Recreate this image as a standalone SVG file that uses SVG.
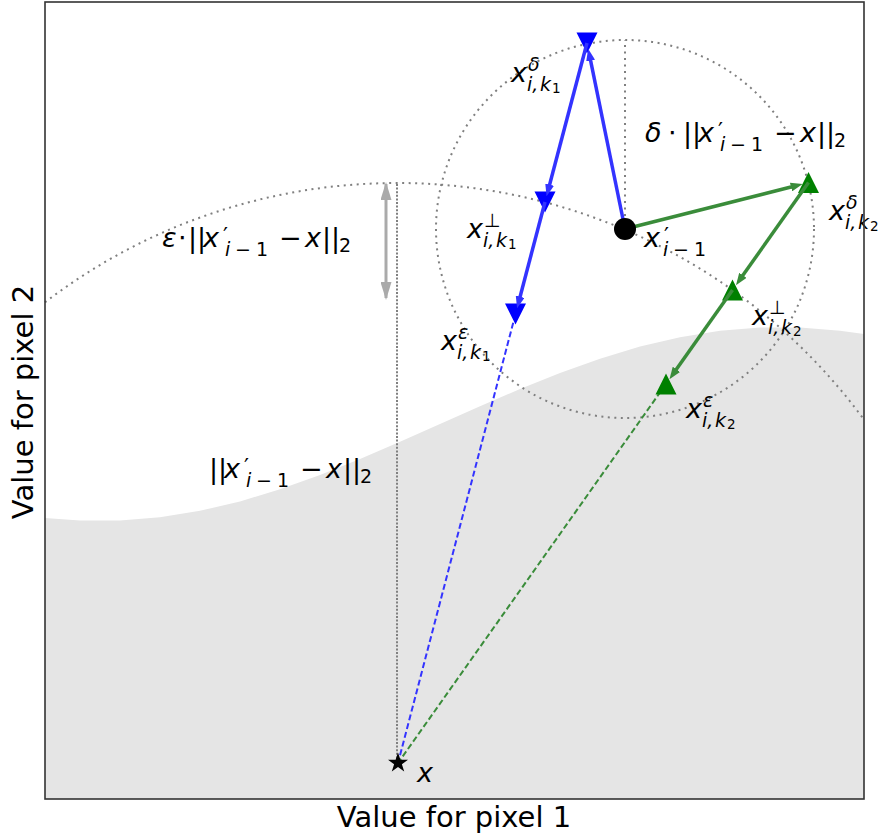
<svg xmlns="http://www.w3.org/2000/svg" width="884" height="837" viewBox="0 0 884 837">
<style>
.dot{fill:none;stroke:#808080;stroke-width:2;stroke-dasharray:2 4.5}
.t{font-family:"DejaVu Sans",sans-serif;fill:#000;font-size:27px}
.it{font-style:italic}
.up{font-style:normal}
.s{font-size:19px}
.ss{font-size:13.5px}
.pr{font-size:22px;font-style:normal}
.ax{font-family:"DejaVu Sans",sans-serif;font-size:29px;fill:#000}
.bl{fill:none;stroke:#3333ff;stroke-width:3.5}
.gl{fill:none;stroke:#3a8c3a;stroke-width:3.5}
</style>
<defs>
<marker id="hb" viewBox="0 0 12 9" refX="4" refY="4.5" markerWidth="12" markerHeight="9" markerUnits="userSpaceOnUse" orient="auto"><path d="M0,0 L12,4.5 L0,9 z" fill="#3333ff"/></marker>
<marker id="hg" viewBox="0 0 12 9" refX="4" refY="4.5" markerWidth="12" markerHeight="9" markerUnits="userSpaceOnUse" orient="auto"><path d="M0,0 L12,4.5 L0,9 z" fill="#3a8c3a"/></marker>
<marker id="hy" viewBox="0 0 18 11" refX="16" refY="5.5" markerWidth="18" markerHeight="11" markerUnits="userSpaceOnUse" orient="auto-start-reverse"><path d="M0,0 L18,5.5 L0,11 z" fill="#aaaaaa"/></marker>
</defs>

<g id="region">
<path d="M45,799 L45,517.9 L80,520.6 L120,520.6 L160,517.3 L200,510.8 L240,501.4 L280,489.3 L320,475.1 L360,459 L400,441.8 L440,424 L480,406.2 L520,389 L560,372.9 L600,358.7 L640,346.6 L680,337.2 L720,330.7 L760,327.4 L800,327.4 L840,330.7 L864,334.1 L864,799 Z" fill="#e5e5e5"/>
</g>

<g id="guides">
<path class="dot" d="M45,302.3 A579,579 0 0 1 864,419.7"/>
<circle class="dot" cx="625" cy="229" r="189"/>
<line class="dot" x1="625" y1="229" x2="625" y2="40"/>
<line x1="397" y1="762" x2="397" y2="183" stroke="#808080" stroke-width="2" stroke-dasharray="2 1.6"/>
<line x1="386" y1="184" x2="386" y2="298" stroke="#aaaaaa" stroke-width="3" marker-start="url(#hy)" marker-end="url(#hy)"/>
</g>

<g id="connectors">
<line x1="515.5" y1="314" x2="398" y2="763" stroke="#3333ff" stroke-width="2" stroke-dasharray="6 3"/>
<line x1="666" y1="384" x2="398" y2="763" stroke="#3a8c3a" stroke-width="2" stroke-dasharray="6 3"/>
</g>

<g id="markers">
<polygon points="576.5,32.5 597.5,32.5 587,53.5" fill="#0000ff"/>
<polygon points="534.5,191.5 555.5,191.5 545,212.5" fill="#0000ff"/>
<polygon points="505,303.5 526,303.5 515.5,324.5" fill="#0000ff"/>
<polygon points="798,193 819,193 808.5,172" fill="#008000"/>
<polygon points="722,300.5 743,300.5 732.5,279.5" fill="#008000"/>
<polygon points="655.5,394.5 676.5,394.5 666,373.5" fill="#008000"/>
</g>

<g id="arrows">
<line class="bl" x1="625" y1="229" x2="589.8" y2="56.7" marker-end="url(#hb)"/>
<line class="bl" x1="587" y1="43" x2="548.6" y2="188.5" marker-end="url(#hb)"/>
<line class="bl" x1="545" y1="202" x2="519.1" y2="300.5" marker-end="url(#hb)"/>
<line class="gl" x1="625" y1="229" x2="794.9" y2="186" marker-end="url(#hg)"/>
<line class="gl" x1="808.5" y1="182.5" x2="740.6" y2="278.6" marker-end="url(#hg)"/>
<line class="gl" x1="732.5" y1="290" x2="674.1" y2="372.6" marker-end="url(#hg)"/>
</g>

<g id="node-current">
<circle cx="625" cy="229" r="11" fill="#000"/>
<text class="t it"><tspan x="644" y="247">x</tspan><tspan class="pr" x="664" y="243">′</tspan><tspan class="s" x="663" y="256">i</tspan><tspan class="s up" x="673" y="256">−</tspan><tspan class="s up" x="694" y="256">1</tspan></text>
</g>

<g id="node-x">
<polygon points="398,752.5 400.4,759.7 408,759.7 401.9,764.3 404.2,771.5 398,767 391.8,771.5 394.1,764.3 388,759.7 395.6,759.7" fill="#000"/>
<text class="t it" x="417" y="782">x</text>
</g>

<g id="node-bd">
<text class="t it"><tspan x="511" y="82">x</tspan><tspan class="s" x="528" y="71">δ</tspan><tspan class="s" x="527" y="91">i,</tspan><tspan class="s" x="540" y="91">k</tspan><tspan class="ss up" x="552" y="93">1</tspan></text>
</g>
<g id="node-bp">
<text class="t it"><tspan x="467" y="238">x</tspan><tspan class="s up" x="484" y="227">⊥</tspan><tspan class="s" x="483" y="247">i,</tspan><tspan class="s" x="496" y="247">k</tspan><tspan class="ss up" x="508" y="249">1</tspan></text>
</g>
<g id="node-be">
<text class="t it"><tspan x="441" y="350">x</tspan><tspan class="s" x="458" y="339">ε</tspan><tspan class="s" x="457" y="359">i,</tspan><tspan class="s" x="470" y="359">k</tspan><tspan class="ss up" x="482" y="361">1</tspan></text>
</g>
<g id="node-gd">
<text class="t it"><tspan x="829" y="220">x</tspan><tspan class="s" x="846" y="209">δ</tspan><tspan class="s" x="845" y="229">i,</tspan><tspan class="s" x="858" y="229">k</tspan><tspan class="ss up" x="870" y="231">2</tspan></text>
</g>
<g id="node-gp">
<text class="t it"><tspan x="752" y="325">x</tspan><tspan class="s up" x="769" y="314">⊥</tspan><tspan class="s" x="768" y="334">i,</tspan><tspan class="s" x="781" y="334">k</tspan><tspan class="ss up" x="793" y="336">2</tspan></text>
</g>
<g id="node-ge">
<text class="t it"><tspan x="686" y="418">x</tspan><tspan class="s" x="703" y="407">ε</tspan><tspan class="s" x="702" y="427">i,</tspan><tspan class="s" x="715" y="427">k</tspan><tspan class="ss up" x="727" y="429">2</tspan></text>
</g>

<g id="label-delta">
<text class="t"><tspan class="it" x="645" y="142">δ</tspan><tspan x="668" y="142">⋅</tspan><tspan x="683" y="142">||</tspan><tspan class="it" x="698" y="142">x</tspan><tspan class="pr" x="718" y="138">′</tspan><tspan class="s it" x="720" y="151">i</tspan><tspan class="s" x="730" y="151">−</tspan><tspan class="s" x="751" y="151">1</tspan><tspan x="774" y="142">−</tspan><tspan class="it" x="800" y="142">x</tspan><tspan x="817" y="142">||</tspan><tspan class="s" x="834" y="147">2</tspan></text>
</g>
<g id="label-eps">
<text class="t"><tspan class="it" x="162" y="247">ε</tspan><tspan x="178" y="247">⋅</tspan><tspan x="188" y="247">||</tspan><tspan class="it" x="203" y="247">x</tspan><tspan class="pr" x="223" y="243">′</tspan><tspan class="s it" x="225" y="256">i</tspan><tspan class="s" x="235" y="256">−</tspan><tspan class="s" x="256" y="256">1</tspan><tspan x="279" y="247">−</tspan><tspan class="it" x="305" y="247">x</tspan><tspan x="322" y="247">||</tspan><tspan class="s" x="339" y="252">2</tspan></text>
</g>
<g id="label-norm">
<text class="t"><tspan x="209" y="478">||</tspan><tspan class="it" x="224" y="478">x</tspan><tspan class="pr" x="244" y="474">′</tspan><tspan class="s it" x="246" y="487">i</tspan><tspan class="s" x="256" y="487">−</tspan><tspan class="s" x="277" y="487">1</tspan><tspan x="300" y="478">−</tspan><tspan class="it" x="326" y="478">x</tspan><tspan x="343" y="478">||</tspan><tspan class="s" x="360" y="483">2</tspan></text>
</g>

<g id="axes">
<rect x="45" y="2" width="819" height="797" fill="none" stroke="#333" stroke-width="1.6"/>
<text class="ax" x="454" y="827" text-anchor="middle">Value for pixel 1</text>
<text class="ax" transform="translate(33,402) rotate(-90)" text-anchor="middle">Value for pixel 2</text>
</g>
</svg>
